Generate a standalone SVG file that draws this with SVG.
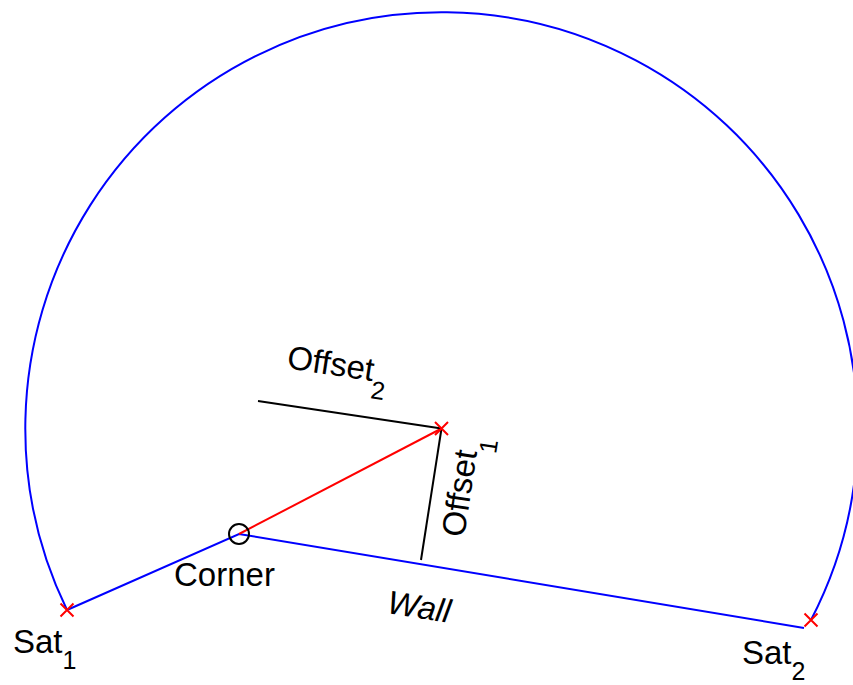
<svg xmlns="http://www.w3.org/2000/svg" width="853" height="685" viewBox="0 0 853 685">
<style>
.t{font-family:"Liberation Sans",Arial,sans-serif;font-size:33px;fill:#000}
.s{font-size:25px}
.blue{stroke:#0000ff;stroke-width:2;fill:none}
.red{stroke:#ff0000;stroke-width:2;fill:none}
.blk{stroke:#000;stroke-width:2;fill:none}
</style>
<defs>
<path id="xm" d="M-6.5,-6.5L6.5,6.5M-6.5,6.5L6.5,-6.5" class="red"/>
</defs>
<rect width="853" height="685" fill="#fff"/>
<g id="connectors">
<path id="arc" class="blue" d="M67,610 A416.2,416.2 0 1 1 811,620"/>
<polyline id="wall" class="blue" points="67,610 239,534 804,628"/>
<line id="red-offset" class="red" x1="239" y1="534" x2="441.5" y2="428.5"/>
<line id="offset2-line" class="blk" x1="258" y1="401" x2="441.5" y2="428.5"/>
<line id="offset1-line" class="blk" x1="441.5" y1="428.5" x2="421" y2="560"/>
</g>
<g id="sat1">
<use href="#xm" x="67" y="610"/>
<text class="t" x="13" y="653">Sat<tspan class="s" dy="16">1</tspan></text>
</g>
<g id="sat2">
<use href="#xm" x="811" y="620"/>
<text class="t" x="742" y="664">Sat<tspan class="s" dy="16">2</tspan></text>
</g>
<g id="corner">
<circle cx="239" cy="534" r="10" class="blk"/>
<text class="t" x="174" y="586">Corner</text>
</g>
<g id="target">
<use href="#xm" x="441.5" y="428.5"/>
</g>
<g id="offset2">
<text class="t" transform="translate(286,368) rotate(8.7)">Offset<tspan class="s" dy="17">2</tspan></text>
</g>
<g id="offset1">
<text class="t" transform="translate(464,538) rotate(-81.3)">Offset<tspan class="s" dy="19">1</tspan></text>
</g>
<g id="wall-label">
<text class="t" font-style="italic" transform="translate(386,613) rotate(9)">Wall</text>
</g>
</svg>
